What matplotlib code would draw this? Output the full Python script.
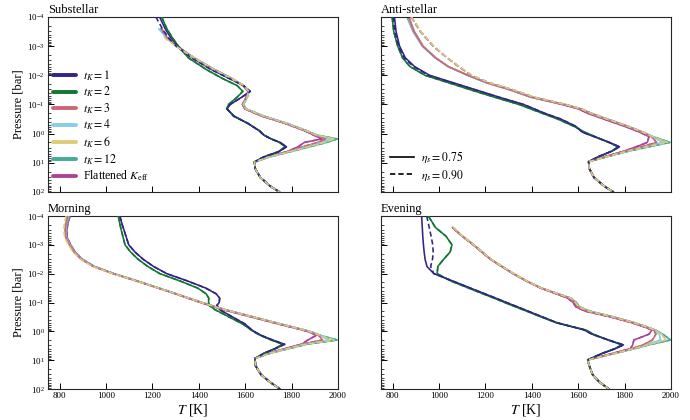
import numpy as np
import matplotlib
matplotlib.use("Agg")
import matplotlib.pyplot as plt
from matplotlib.lines import Line2D
from matplotlib.ticker import LogLocator, NullFormatter

plt.rcParams['font.family'] = ['Liberation Serif', 'DejaVu Serif']
plt.rcParams['mathtext.fontset'] = 'stix'

nan = np.nan

MODELS = ['1', '2', '3', '4', '6', '12', 'flat']
LABELS = [r'$t_K = 1$', r'$t_K = 2$', r'$t_K = 3$', r'$t_K = 4$', r'$t_K = 6$',
          r'$t_K = 12$', r'Flattened $K_{\rm eff}$']
COLORS = ['#332288', '#117733', '#CC6677', '#88CCEE', '#DDCC77', '#44AA99', '#AA4499']
ETA_LABELS = [r'$\eta_s = 0.75$', r'$\eta_s = 0.90$']
PANEL_TITLES = ['Substellar', 'Anti-stellar', 'Morning', 'Evening']
XTICKS = [800, 1000, 1200, 1400, 1600, 1800, 2000]

# ---------------- Substellar ----------------
SUB_LOGP = [-4.0, -3.6, -3.3, -3.0, -2.6, -2.2, -1.9, -1.65, -1.45, -1.25, -1.0, -0.85, -0.6,
            -0.35, -0.1, 0.05, 0.18, 0.3, 0.45, 0.62, 0.8, 0.97, 1.2, 1.5, 1.8, 2.0]
SUB_SOLID = {
    '1':    [1231, 1255, 1278, 1310, 1372, 1455, 1530, 1592, 1622, 1585, 1535, 1522, 1550, 1612, 1660, 1680, 1712, 1750, 1778, 1745, 1680, 1640, 1643, 1665, 1708, 1748],
    '2':    [1240, 1262, 1285, 1312, 1355, 1432, 1500, 1565, 1590, 1565, 1528, 1520, 1553, 1612, 1662, 1682, 1712, 1748, 1772, 1742, 1678, 1640, 1643, 1665, 1708, 1748],
    '3':    [nan, 1239, 1262, 1305, 1378, 1465, 1539, 1592, 1614, 1606, 1590, 1600, 1675, 1775, 1860, 1900, 1948, 1912, 1848, 1778, 1695, 1640, 1643, 1665, 1708, 1748],
    '4':    [nan, 1228, 1258, 1303, 1376, 1463, 1537, 1592, 1615, 1607, 1591, 1602, 1678, 1778, 1862, 1905, 1968, 1928, 1860, 1785, 1700, 1640, 1643, 1665, 1708, 1748],
    '6':    [nan, 1242, 1258, 1304, 1380, 1468, 1541, 1594, 1616, 1608, 1592, 1603, 1680, 1780, 1864, 1908, 1983, 1942, 1870, 1790, 1702, 1640, 1643, 1665, 1708, 1748],
    '12':   [nan, 1235, 1260, 1306, 1380, 1468, 1541, 1594, 1617, 1609, 1593, 1604, 1682, 1782, 1866, 1910, 1997, 1952, 1878, 1795, 1705, 1640, 1643, 1665, 1708, 1748],
    'flat': [nan, 1236, 1262, 1305, 1378, 1465, 1538, 1590, 1612, 1604, 1588, 1598, 1672, 1772, 1856, 1895, 1930, 1855, 1828, 1780, 1697, 1640, 1643, 1665, 1708, 1748],
}
SUB_DASH = dict(SUB_SOLID)
SUB_DASH['1'] = [1215, 1243, 1268, 1302, 1368, 1452, 1528, 1592, 1622, 1585, 1535, 1522, 1550, 1612, 1660, 1680, 1712, 1750, 1778, 1745, 1680, 1640, 1643, 1665, 1708, 1748]
SUB_DASH['6'] = [nan, nan, 1250, 1300, 1380, 1468, 1541, 1594, 1616, 1608, 1592, 1603, 1680, 1780, 1864, 1908, 1983, 1942, 1870, 1790, 1702, 1640, 1643, 1665, 1708, 1748]

# ---------------- Anti-stellar ----------------
ANTI_LOGP = [-4.0, -3.5, -3.0, -2.6, -2.3, -2.0, -1.75, -1.5, -1.25, -1.0, -0.85, -0.7, -0.5,
             -0.25, -0.05, 0.1, 0.3, 0.45, 0.6, 0.78, 0.96, 1.2, 1.5, 1.8, 2.0]
ANTI_SOLID = {
    '1':    [808, 815, 830, 855, 895, 960, 1060, 1160, 1260, 1365, 1410, 1455, 1525, 1590, 1618, 1668, 1735, 1778, 1745, 1690, 1645, 1648, 1668, 1712, 1752],
    '2':    [798, 805, 822, 843, 875, 940, 1040, 1138, 1240, 1345, 1395, 1445, 1512, 1582, 1628, 1672, 1732, 1772, 1745, 1690, 1645, 1648, 1668, 1712, 1752],
    '3':    [868, 892, 930, 985, 1040, 1125, 1205, 1310, 1400, 1540, 1610, 1652, 1722, 1812, 1876, 1915, 1938, 1872, 1800, 1722, 1645, 1648, 1668, 1712, 1752],
    '4':    [866, 890, 929, 984, 1039, 1124, 1205, 1310, 1400, 1541, 1611, 1653, 1723, 1813, 1877, 1918, 1965, 1885, 1808, 1725, 1645, 1648, 1668, 1712, 1752],
    '6':    [868, 892, 931, 986, 1041, 1126, 1206, 1311, 1401, 1542, 1612, 1654, 1724, 1814, 1878, 1920, 1985, 1895, 1812, 1728, 1645, 1648, 1668, 1712, 1752],
    '12':   [862, 888, 928, 984, 1040, 1125, 1206, 1311, 1402, 1543, 1613, 1656, 1726, 1816, 1880, 1922, 1996, 1905, 1818, 1730, 1645, 1648, 1668, 1712, 1752],
    'flat': [870, 894, 932, 986, 1040, 1124, 1203, 1306, 1395, 1530, 1600, 1640, 1710, 1800, 1865, 1905, 1898, 1850, 1798, 1718, 1645, 1648, 1668, 1712, 1752],
}
ANTI_DASH = dict(ANTI_SOLID)
ANTI_DASH['1'] = [803, 810, 826, 850, 890, 955, 1055, 1157, 1258, 1365, 1410, 1455, 1525, 1590, 1618, 1668, 1735, 1778, 1745, 1690, 1645, 1648, 1668, 1712, 1752]
ANTI_DASH['3'] = [880, 920, 975, 1035, 1085, 1140, 1215, 1320, 1410, 1545, 1612, 1654, 1724, 1814, 1878, 1915, 1938, 1872, 1800, 1722, 1645, 1648, 1668, 1712, 1752]
ANTI_DASH['4'] = [880, 920, 975, 1035, 1085, 1140, 1215, 1320, 1410, 1545, 1612, 1654, 1724, 1814, 1878, 1918, 1965, 1885, 1808, 1725, 1645, 1648, 1668, 1712, 1752]
ANTI_DASH['6'] = [882, 922, 977, 1037, 1087, 1142, 1217, 1322, 1412, 1546, 1613, 1655, 1725, 1815, 1879, 1920, 1985, 1895, 1812, 1728, 1645, 1648, 1668, 1712, 1752]
ANTI_DASH['12'] = [880, 920, 975, 1035, 1085, 1140, 1215, 1320, 1410, 1546, 1614, 1657, 1727, 1817, 1880, 1922, 1996, 1905, 1818, 1730, 1645, 1648, 1668, 1712, 1752]
ANTI_DASH['flat'] = [882, 921, 976, 1036, 1085, 1140, 1213, 1316, 1404, 1535, 1603, 1642, 1712, 1802, 1866, 1905, 1898, 1850, 1798, 1718, 1645, 1648, 1668, 1712, 1752]

# ---------------- Morning ----------------
MORN_LOGP = [-4.0, -3.75, -3.5, -3.25, -3.0, -2.75, -2.5, -2.25, -2.0, -1.75, -1.5, -1.3, -1.15,
             -1.0, -0.9, -0.75, -0.5, -0.25, -0.05, 0.05, 0.15, 0.3, 0.45, 0.6, 0.75, 0.94,
             1.2, 1.5, 1.75, 2.0]
MORN_SOLID = {
    '1':    [1060, 1068, 1078, 1088, 1098, 1125, 1160, 1205, 1262, 1350, 1430, 1475, 1490, 1488, 1478, 1490, 1545, 1600, 1628, 1648, 1672, 1718, 1770, 1730, 1685, 1642, 1645, 1668, 1705, 1750],
    '2':    [1053, 1059, 1066, 1074, 1082, 1106, 1138, 1180, 1232, 1318, 1395, 1432, 1443, 1442, 1445, 1470, 1530, 1590, 1625, 1645, 1668, 1712, 1762, 1728, 1683, 1642, 1645, 1668, 1705, 1750],
    '3':    [835, 828, 824, 827, 843, 862, 893, 945, 1030, 1130, 1225, 1300, 1355, 1410, 1450, 1510, 1630, 1750, 1850, 1890, 1918, 1933, 1840, 1775, 1705, 1642, 1645, 1668, 1705, 1750],
    '4':    [838, 830, 826, 829, 845, 864, 895, 947, 1032, 1132, 1227, 1302, 1357, 1412, 1452, 1512, 1632, 1752, 1852, 1893, 1922, 1962, 1850, 1780, 1708, 1642, 1645, 1668, 1705, 1750],
    '6':    [832, 825, 822, 826, 842, 861, 892, 944, 1030, 1130, 1226, 1301, 1356, 1412, 1452, 1513, 1633, 1753, 1853, 1895, 1925, 1983, 1858, 1785, 1710, 1642, 1645, 1668, 1705, 1750],
    '12':   [842, 833, 828, 830, 846, 865, 896, 948, 1033, 1133, 1228, 1303, 1358, 1414, 1454, 1515, 1635, 1755, 1855, 1897, 1928, 1997, 1865, 1790, 1712, 1642, 1645, 1668, 1705, 1750],
    'flat': [845, 836, 831, 833, 848, 867, 898, 950, 1034, 1132, 1226, 1300, 1353, 1407, 1446, 1505, 1625, 1745, 1845, 1885, 1905, 1870, 1843, 1772, 1703, 1642, 1645, 1668, 1705, 1750],
}
MORN_DASH = dict(MORN_SOLID)
MORN_DASH['6'] = [828, 820, 818, 822, 838, 858, 890, 942, 1028, 1129, 1226, 1301, 1356, 1412, 1452, 1513, 1633, 1753, 1853, 1895, 1925, 1983, 1858, 1785, 1710, 1642, 1645, 1668, 1705, 1750]

# ---------------- Evening ----------------
EVE_LOGP = [-4.0, -3.6, -3.3, -3.0, -2.75, -2.5, -2.25, -2.0, -1.75, -1.5, -1.3, -1.15, -1.0,
            -0.85, -0.7, -0.5, -0.3, -0.15, -0.05, 0.1, 0.3, 0.47, 0.6, 0.78, 0.99, 1.2, 1.5,
            1.75, 2.0]
EVE_SOLID = {
    '1':    [925, 928, 930, 933, 936, 940, 948, 978, 1058, 1135, 1198, 1245, 1291, 1338, 1384, 1446, 1508, 1580, 1625, 1660, 1730, 1795, 1760, 1700, 1641, 1648, 1662, 1690, 1732],
    '2':    [954, 985, 1030, 1056, 1048, 1020, 995, 992, 1050, 1128, 1190, 1238, 1283, 1330, 1378, 1440, 1505, 1578, 1632, 1665, 1728, 1790, 1758, 1698, 1641, 1648, 1662, 1690, 1732],
    '3':    [nan, 1058, 1100, 1148, 1185, 1222, 1270, 1320, 1375, 1440, 1510, 1565, 1585, 1598, 1640, 1745, 1835, 1890, 1925, 1935, 1920, 1880, 1830, 1745, 1641, 1648, 1662, 1690, 1732],
    '4':    [nan, 1060, 1101, 1149, 1186, 1223, 1271, 1321, 1376, 1441, 1512, 1567, 1587, 1600, 1643, 1748, 1838, 1893, 1928, 1950, 1955, 1890, 1835, 1748, 1641, 1648, 1662, 1690, 1732],
    '6':    [nan, 1062, 1102, 1150, 1187, 1224, 1272, 1322, 1377, 1442, 1513, 1568, 1589, 1602, 1646, 1750, 1840, 1895, 1930, 1960, 1978, 1898, 1840, 1750, 1641, 1648, 1662, 1690, 1732],
    '12':   [nan, 1060, 1101, 1150, 1187, 1224, 1272, 1322, 1377, 1442, 1514, 1570, 1592, 1606, 1650, 1753, 1843, 1898, 1932, 1965, 1998, 1905, 1845, 1752, 1641, 1648, 1662, 1690, 1732],
    'flat': [nan, 1058, 1100, 1148, 1185, 1222, 1270, 1320, 1375, 1438, 1505, 1555, 1578, 1590, 1630, 1738, 1830, 1885, 1918, 1905, 1840, 1835, 1825, 1742, 1641, 1648, 1662, 1690, 1732],
}
EVE_DASH = dict(EVE_SOLID)
EVE_DASH['1'] = [947, 958, 966, 973, 975, 972, 964, 978, 1058, 1135, 1198, 1245, 1291, 1338, 1384, 1446, 1508, 1580, 1625, 1660, 1730, 1795, 1760, 1700, 1641, 1648, 1662, 1690, 1732]

PANELS = [
    (SUB_LOGP, SUB_SOLID, SUB_DASH),
    (ANTI_LOGP, ANTI_SOLID, ANTI_DASH),
    (MORN_LOGP, MORN_SOLID, MORN_DASH),
    (EVE_LOGP, EVE_SOLID, EVE_DASH),
]

fig = plt.figure(figsize=(6.9, 4.2), dpi=100)
W, H = 690.0, 420.0
boxes = [(48, 17, 338, 192), (381, 17, 671, 192), (48, 216, 338, 389), (381, 216, 671, 389)]
axes = []
for (x0, y0, x1, y1) in boxes:
    axes.append(fig.add_axes([x0 / W, 1 - y1 / H, (x1 - x0) / W, (y1 - y0) / H]))

LW = 1.15
DASH = (0, (3.2, 1.8))
# draw order: solids (t_K=1 on top), then dashed (sand on top)
solid_z = {m: 2 + 0.1 * (len(MODELS) - i) for i, m in enumerate(MODELS)}
dash_order = ['flat', '12', '4', '3', '2', '1', '6']
dash_z = {m: 3 + 0.1 * i for i, m in enumerate(dash_order)}

for k, (ax, (logp, solid, dashed)) in enumerate(zip(axes, PANELS)):
    p = 10.0 ** np.array(logp)
    for m, c, lab in zip(MODELS, COLORS, LABELS):
        ax.plot(np.array(solid[m], float), p, color=c, lw=LW, ls='-', zorder=solid_z[m],
                label=lab, solid_capstyle='round')
    for m, c in zip(MODELS, COLORS):
        ax.plot(np.array(dashed[m], float), p, color=c, lw=LW, ls=DASH, zorder=dash_z[m])

    ax.set_yscale('log')
    ax.set_ylim(1e2, 1e-4)
    ax.set_xlim(750, 2000)
    ax.set_xticks(XTICKS)
    ax.yaxis.set_major_locator(LogLocator(base=10, numticks=10))
    ax.yaxis.set_minor_locator(LogLocator(base=10, subs=np.arange(2, 10), numticks=100))
    ax.yaxis.set_minor_formatter(NullFormatter())
    ax.tick_params(which='major', direction='in', length=4, width=0.7, labelsize=6.5,
                   top=False, right=False, pad=2.5)
    ax.tick_params(which='minor', direction='in', length=2, width=0.5, top=False, right=False)
    for s in ax.spines.values():
        s.set_linewidth(0.8)
        s.set_color('0.15')
    ax.set_title(PANEL_TITLES[k], loc='left', fontsize=9, pad=3)
    if k in (0, 2):
        ax.set_ylabel('Pressure [bar]', fontsize=9, labelpad=2)
    else:
        ax.tick_params(labelleft=False)
    if k in (2, 3):
        ax.set_xlabel(r'$T$ [K]', fontsize=10, labelpad=1)
    else:
        ax.tick_params(labelbottom=False)

leg = axes[0].legend(loc='upper left', bbox_to_anchor=(0.0, 0.735), frameon=False,
                     fontsize=8.5, handlelength=2.0, labelspacing=0.18, handletextpad=0.6,
                     borderaxespad=0.0)
for l in leg.get_lines():
    l.set_linewidth(2.8)
    l.set_linestyle('-')

eta_handles = [Line2D([], [], color='k', lw=1.2, ls='-'),
               Line2D([], [], color='k', lw=1.2, ls=DASH)]
axes[1].legend(eta_handles, ETA_LABELS, loc='lower left', frameon=False, fontsize=8.5,
               handlelength=2.0, labelspacing=0.18, handletextpad=0.6, borderaxespad=0.4)

fig.savefig('out.png', dpi=100)
